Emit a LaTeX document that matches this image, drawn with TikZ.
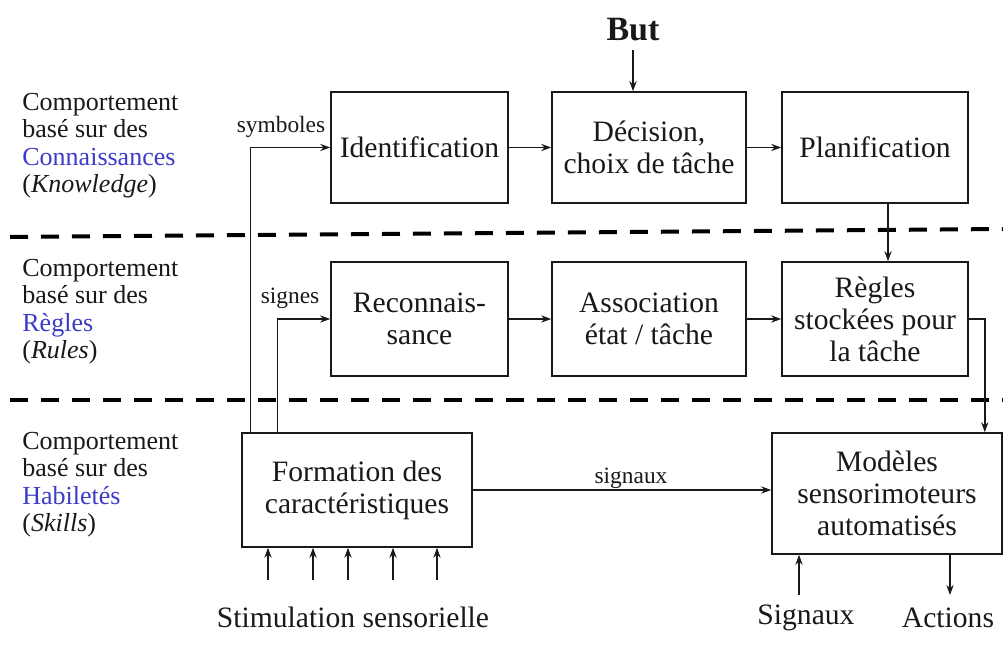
\documentclass[tikz,border=0pt]{standalone}
\usepackage{fontspec}
\setmainfont{Liberation Serif}
\usetikzlibrary{arrows.meta,calc}
\definecolor{lblue}{RGB}{60,60,200}
\definecolor{ink}{RGB}{25,25,25}
\tikzset{
  box/.style={draw=ink, line width=0.8pt, inner sep=0pt, align=center, text=ink,
    font=\fontsize{14.8}{16}\selectfont},
  arr/.style={draw=ink, line width=0.55pt, -{Stealth[length=5pt,width=3.6pt]}},
  dashline/.style={draw=black, line width=2pt, dash pattern=on 9pt off 6.5pt},
  side/.style={anchor=north west, inner sep=0pt, align=left, text=ink,
    font=\fontsize{13}{13.6}\selectfont},
  small/.style={inner sep=0pt, text=ink, font=\fontsize{11.7}{13}\selectfont},
  lab/.style={inner sep=0pt, text=ink, font=\fontsize{14.8}{16}\selectfont},
}
\begin{document}
\begin{tikzpicture}[x=0.5pt,y=-0.5pt]
\useasboundingbox[fill=white] (0,0) rectangle (1003,648);

% dashed separators
\draw[dashline] (10,237) -- (1003,229);
\draw[dashline] (10,400) -- (1003,400);

% side labels
\node[side] (lk) at (22,93) {Comportement\\bas\'e sur des\\\textcolor{lblue}{Connaissances}\\(\textit{Knowledge})};
\node[side] (lr) at (22,259) {Comportement\\bas\'e sur des\\\textcolor{lblue}{R\`egles}\\(\textit{Rules})};
\node[side] (ls) at (22,432) {Comportement\\bas\'e sur des\\\textcolor{lblue}{Habilet\'es}\\(\textit{Skills})};

% boxes
\node[box, minimum width=88.5pt, minimum height=55.5pt] (ident) at (419.5,147.5) {Identification};
\node[box, minimum width=97pt, minimum height=55.5pt] (decis) at (649,147.5) {D\'ecision,\\choix de t\^ache};
\node[box, minimum width=93pt, minimum height=55.5pt] (plan) at (875,147.5) {Planification};
\node[box, minimum width=88.5pt, minimum height=57pt] (recon) at (419.5,319) {Reconnais-\\sance};
\node[box, minimum width=97pt, minimum height=57pt] (assoc) at (649,319) {Association\\\'etat / t\^ache};
\node[box, minimum width=93pt, minimum height=57pt] (regles) at (875,319) {R\`egles\\stock\'ees pour\\la t\^ache};
\node[box, minimum width=115pt, minimum height=57pt] (form) at (357,490) {Formation des\\caract\'eristiques};
\node[box, minimum width=115pt, minimum height=60.5pt] (model) at (887,493.5) {Mod\`eles\\sensorimoteurs\\automatis\'es};

% texts
\node[inner sep=0pt, text=ink, font=\fontsize{17}{18}\bfseries] (but) at (633,30) {But};
\node[small] (symb) at (281,127) {symboles};
\node[small] (sign) at (290,298) {signes};
\node[small] (sigx) at (631,478) {signaux};
\node[lab] (stim) at (353,617) {Stimulation sensorielle};
\node[lab] (sigin) at (806,618) {Signaux};
\node[lab] (act) at (948,618) {Actions};

% horizontal flows
\draw[arr] (ident.east) -- (decis.west);
\draw[arr] (decis.east) -- (plan.west);
\draw[arr] (recon.east) -- (assoc.west);
\draw[arr] (assoc.east) -- (regles.west);

% goal
\coordinate (butb) at (633,50);
\draw[arr, line width=0.75pt] (butb) -- (butb |- decis.north);

% feedback from features
\draw[arr] ($(form.north west)+(9,0)$) |- (ident.west);
\draw[arr] ($(form.north west)+(36,0)$) |- (recon.west);

% planification -> regles
\draw[arr, line width=0.75pt] ($(plan.south)+(13,0)$) -- ($(regles.north)+(13,0)$);
% regles -> modeles
\draw[arr, line width=0.75pt] (regles.east) -| ($(model.north east)+(-18,0)$);
% signaux
\draw[arr] (form.east) -- (form.east -| model.west);

% stimulation inputs
\foreach \xx in {268,313,348,393,437}{
  \coordinate (s\xx) at (\xx,580);
  \draw[arr] (s\xx) -- (s\xx |- form.south);
}
% Signaux input and actions output
\coordinate (sg) at (799,595);
\draw[arr] (sg) -- (sg |- model.south);
\coordinate (ac) at (950,595);
\draw[arr] (ac |- model.south) -- (ac);
\end{tikzpicture}
\end{document}
